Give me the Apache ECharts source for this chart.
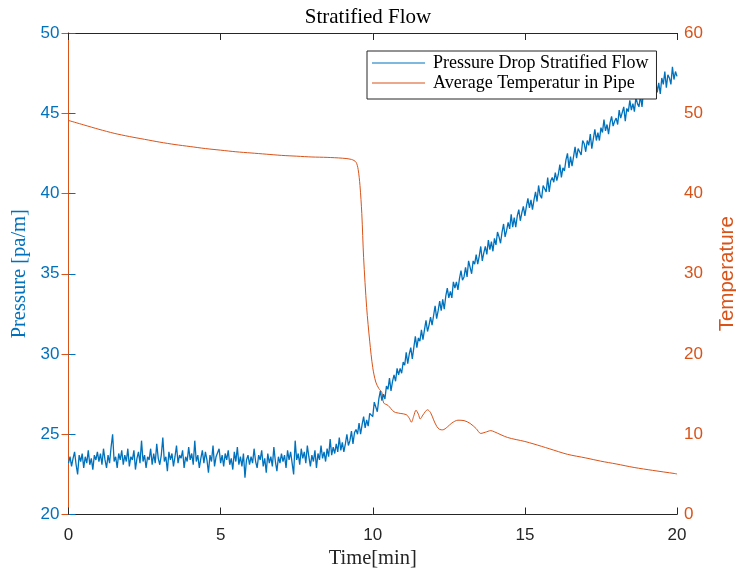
<!DOCTYPE html>
<html>
<head>
<meta charset="utf-8">
<script src="https://cdn.jsdelivr.net/npm/echarts@6/dist/echarts.min.js"></script>
<style>
  html, body { margin: 0; padding: 0; background: #fff; }
  #chart { width: 736px; height: 572px; }
</style>
</head>
<body>
<div id="chart"></div>
<script>
// ---- data ----
var xTicks = [0, 5, 10, 15, 20];
var sampleStep = 0.05; // min between pressure samples

// pressure drop [pa/m], one value every 0.05 min
var pressure = [
    23.2, 23.6, 23.0, 23.5, 23.9, 23.1, 22.5, 23.7, 23.3, 23.8, 22.9, 23.6, 23.2, 24.0, 23.1, 23.5, 22.8, 23.7, 23.4, 23.9,
    23.3, 23.8, 23.1, 24.1, 23.4, 22.9, 23.7, 23.2, 24.2, 25.0, 23.3, 23.6, 22.9, 23.8, 23.4, 24.0, 23.1, 23.7, 23.3, 24.1,
    23.0, 23.6, 23.4, 24.0, 22.8, 23.5, 23.9, 23.2, 24.6, 23.3, 23.7, 22.9, 23.6, 23.4, 24.1, 23.1, 23.8, 23.2, 24.4, 23.5,
    23.1, 23.7, 24.8, 23.3, 23.6, 22.7, 23.9, 23.4, 23.8, 23.0, 23.6, 24.3, 23.2, 23.7, 23.5, 24.0, 22.9, 23.6, 23.3, 24.2,
    23.4, 23.8, 23.1, 24.6, 23.3, 23.7, 22.9, 23.5, 24.0, 23.2, 23.9, 23.4, 22.6, 23.7, 23.3, 24.3, 23.0, 23.6, 23.5, 24.1,
    23.2, 23.7, 23.0, 23.8, 23.4, 24.0, 23.1, 23.5, 22.8, 23.9, 23.3, 24.2, 23.1, 23.6, 23.0, 23.8, 22.3, 23.4, 23.7, 23.1,
    23.6, 23.2, 24.1, 23.3, 22.9, 23.7, 23.4, 24.0, 23.0, 23.5, 22.6, 23.8, 23.2, 23.6, 23.0, 24.2, 23.3, 22.7, 23.6, 23.2,
    23.8, 23.3, 23.7, 22.9, 24.0, 23.4, 23.9, 23.2, 22.5, 24.6, 23.4, 23.8, 23.1, 24.1, 23.5, 23.9, 23.2, 24.3, 23.6, 23.0,
    23.7, 23.3, 24.0, 22.9, 23.8, 23.4, 24.3, 23.5, 23.9, 23.3, 24.1, 23.6, 24.7, 23.7, 24.2, 23.8, 24.4, 23.9, 24.8, 24.0,
    24.5, 23.9, 24.4, 25.0, 24.3, 24.6, 25.2, 24.4, 25.1, 25.3, 25.0, 25.7, 25.0, 25.6, 26.1, 25.4, 25.9, 25.5, 26.3, 26.2,
    26.1, 27.0, 26.7, 26.4, 27.2, 27.7, 27.1, 27.5, 27.2, 28.0, 27.8, 28.5, 27.7, 28.3, 28.7, 28.3, 29.1, 28.7, 29.1, 28.8,
    29.5, 29.3, 30.1, 29.4, 30.0, 30.4, 29.7, 30.4, 31.1, 30.4, 31.0, 30.8, 31.5, 30.9, 31.5, 32.1, 31.4, 31.8, 32.3, 31.8,
    32.4, 33.0, 32.2, 32.7, 33.3, 32.7, 33.4, 32.8, 33.6, 34.1, 33.5, 33.9, 33.5, 34.5, 34.1, 34.5, 34.0, 34.7, 35.2, 34.6,
    34.8, 35.4, 34.8, 35.8, 35.4, 35.0, 35.8, 35.6, 36.2, 35.6, 36.1, 36.7, 35.8, 36.3, 36.7, 36.2, 37.1, 36.5, 37.0, 36.4,
    37.2, 36.8, 37.6, 37.3, 36.9, 37.6, 38.1, 37.3, 37.7, 38.2, 37.8, 38.7, 37.9, 38.5, 37.9, 38.6, 39.0, 38.3, 38.8, 39.2,
    38.6, 39.2, 39.7, 39.1, 39.6, 39.0, 39.6, 40.1, 39.5, 40.5, 39.9, 39.7, 40.5, 40.3, 40.1, 41.0, 40.1, 40.8, 41.0, 40.7,
    41.3, 40.8, 41.2, 41.8, 41.0, 41.6, 41.4, 42.1, 42.5, 41.6, 42.3, 41.7, 42.3, 42.9, 42.2, 42.8, 42.6, 42.4, 43.3, 43.1,
    42.6, 43.3, 43.0, 43.7, 42.8, 43.4, 44.0, 43.3, 43.8, 43.3, 44.1, 43.8, 44.6, 43.9, 44.3, 43.7, 44.4, 44.8, 44.2, 44.5,
    44.7, 44.3, 45.2, 44.7, 44.6, 45.4, 44.5, 45.3, 45.1, 45.8, 45.2, 45.6, 45.1, 46.0, 45.6, 45.4, 46.1, 45.4, 46.4, 45.9,
    45.8, 46.5, 46.0, 46.8, 46.0, 46.6, 47.1, 46.3, 46.9, 46.2, 47.2, 46.8, 47.6, 46.6, 47.4, 47.2, 46.8, 47.9, 47.1, 47.6,
    47.3
];

// average temperature in pipe
var tempTime = [
    0, 0.5, 1, 1.5, 2, 2.5, 3, 3.5, 4, 4.5, 5, 5.5, 6, 6.5, 7, 7.5, 8, 8.5, 9, 9.3,
    9.45, 9.52, 9.58, 9.64, 9.7, 9.8, 9.9, 10.0, 10.1, 10.2, 10.3, 10.36, 10.5, 10.7, 10.9, 11.1, 11.2, 11.27, 11.35, 11.42,
    11.5, 11.56, 11.65, 11.8, 11.9, 12.0, 12.1, 12.2, 12.3, 12.45, 12.6, 12.8, 13.0, 13.2, 13.4, 13.55, 13.7, 13.88, 14.0, 14.43,
    15.0, 15.3, 15.8, 16.4, 17.0, 17.49, 18.0, 18.59, 19.2, 19.93, 20
];
var tempValue = [
    49.1, 48.55, 48.0, 47.5, 47.1, 46.75, 46.4, 46.1, 45.85, 45.6, 45.4, 45.2, 45.05, 44.9, 44.75, 44.65, 44.55, 44.5, 44.4, 44.25,
    43.9, 43.0, 41.0, 37.5, 32.0, 25.8, 21.6, 18.3, 16.5, 15.7, 15.2, 13.9, 13.6, 12.8, 12.6, 12.45, 12.0, 11.5, 12.3, 13.0,
    12.5, 11.9, 12.4, 13.05, 12.7, 11.8, 11.0, 10.6, 10.55, 10.9, 11.4, 11.75, 11.7, 11.35, 10.7, 10.1, 10.25, 10.45, 10.3, 9.6,
    9.1, 8.78, 8.2, 7.5, 7.05, 6.65, 6.3, 5.86, 5.5, 5.1, 5.05
];

var blue = '#0072BD';
var orange = '#D95319';
var dark = '#262626';
var sansFont = '"Liberation Sans", Arial, sans-serif';
var serifFont = '"Liberation Serif", "Times New Roman", serif';

var pressureData = pressure.map(function(v, i) { return [i * sampleStep, v]; });
var tempData = tempTime.map(function(t, i) { return [t, tempValue[i]]; });

var dom = document.getElementById('chart');
var myChart = echarts.init(dom, null, { renderer: 'canvas' });

var option = {
    backgroundColor: '#ffffff',
    animation: false,
    title: {
        text: 'Stratified Flow',
        left: 'center',
        top: 2,
        textStyle: {
            fontFamily: serifFont,
            fontSize: 21,
            fontWeight: 'normal',
            color: '#000'
        }
    },
    legend: {
        orient: 'vertical',
        left: 367,
        top: 51,
        icon: 'rect',
        itemWidth: 53,
        itemHeight: 1.2,
        itemGap: 0,
        padding: [2, 8, 6, 5],
        backgroundColor: '#fff',
        borderColor: dark,
        borderWidth: 1,
        borderRadius: 0,
        textStyle: {
            fontFamily: serifFont,
            fontSize: 18,
            lineHeight: 20,
            padding: [0, 0, 0, 3],
            color: '#000'
        },
        data: ['Pressure Drop Stratified Flow', 'Average Temperatur in Pipe']
    },
    grid: {
        left: 68.5,
        right: 59,
        top: 33,
        bottom: 57.5,
        containLabel: false,
        outerBoundsMode: 'none'
    },
    xAxis: [{
        type: 'value',
        min: 0,
        max: 20,
        interval: 5,
        position: 'bottom',
        name: 'Time[min]',
        nameLocation: 'middle',
        nameGap: 33,
        nameTextStyle: {
            fontFamily: serifFont,
            fontSize: 20.5,
            color: dark
        },
        axisLine: { show: true, lineStyle: { color: dark, width: 1 } },
        axisTick: { show: true, inside: true, length: 7, lineStyle: { color: dark } },
        axisLabel: {
            margin: 12,
            fontFamily: sansFont,
            fontSize: 17,
            color: dark
        },
        splitLine: { show: false }
    }, {
        type: 'value',
        min: 0,
        max: 20,
        interval: 5,
        position: 'top',
        axisLine: { show: true, lineStyle: { color: dark, width: 1 } },
        axisTick: { show: true, inside: true, length: 7, lineStyle: { color: dark } },
        axisLabel: { show: false },
        splitLine: { show: false }
    }],
    yAxis: [{
        type: 'value',
        min: 20,
        max: 50,
        interval: 5,
        position: 'left',
        name: 'Pressure [pa/m]',
        nameLocation: 'middle',
        nameGap: 35,
        nameTextStyle: {
            fontFamily: serifFont,
            fontSize: 20.5,
            color: blue
        },
        axisLine: { show: true, lineStyle: { color: blue, width: 1 } },
        axisTick: { show: true, inside: true, length: 7, lineStyle: { color: blue } },
        axisLabel: {
            margin: 9,
            fontFamily: sansFont,
            fontSize: 17,
            color: blue
        },
        splitLine: { show: false }
    }, {
        type: 'value',
        min: 0,
        max: 60,
        interval: 10,
        position: 'right',
        name: 'Temperature',
        nameLocation: 'middle',
        nameGap: 40,
        nameTextStyle: {
            fontFamily: sansFont,
            fontSize: 20.5,
            color: orange
        },
        axisLine: { show: true, lineStyle: { color: orange, width: 1 } },
        axisTick: { show: true, inside: true, length: 7, lineStyle: { color: orange } },
        axisLabel: {
            margin: 7,
            fontFamily: sansFont,
            fontSize: 17,
            color: orange
        },
        splitLine: { show: false }
    }],
    series: [{
        name: 'Pressure Drop Stratified Flow',
        type: 'line',
        xAxisIndex: 0,
        yAxisIndex: 0,
        data: pressureData,
        symbol: 'none',
        lineStyle: { color: blue, width: 1.3 },
        itemStyle: { color: blue }
    }, {
        name: 'Average Temperatur in Pipe',
        type: 'line',
        xAxisIndex: 0,
        yAxisIndex: 1,
        data: tempData,
        symbol: 'none',
        smooth: 0.3,
        lineStyle: { color: orange, width: 1 },
        itemStyle: { color: orange },
        z: 1
    }]
};

if (option && typeof option === 'object') {
    myChart.setOption(option);
}

window.onresize = function() {
    myChart.resize();
};
</script>
</body>
</html>
